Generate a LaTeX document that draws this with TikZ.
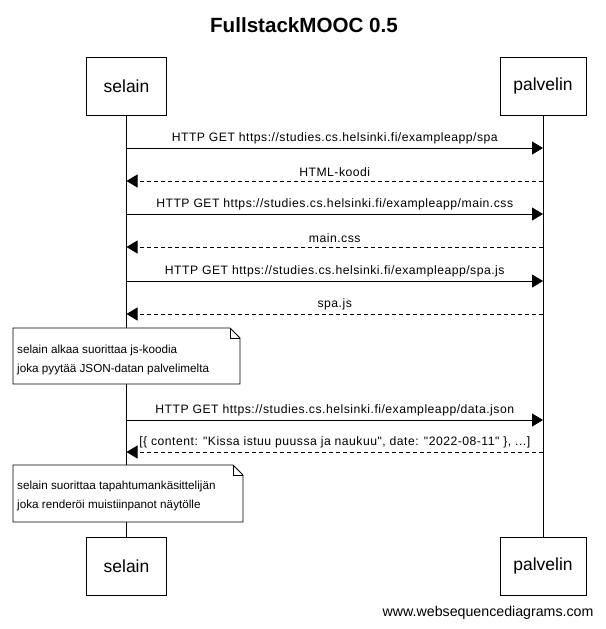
\documentclass[tikz,border=0pt]{standalone}
\usepackage{fontspec}
\setmainfont{Liberation Sans}
\newfontfamily\lblfont[LetterSpace=4]{Liberation Sans}
\usetikzlibrary{arrows.meta}
\begin{document}
\begin{tikzpicture}[x=1pt,y=-1pt,
  actor/.style={draw,line width=0.8pt,fill=white,minimum width=80pt,minimum height=58pt,inner sep=0pt,font=\fontsize{17.5}{20}\selectfont},
  msg/.style={line width=0.8pt,-{Triangle[length=11pt,width=13pt]}},
  reply/.style={msg,dash pattern=on 4pt off 3pt},
  lbl/.style={font=\lblfont\fontsize{12.2}{14}\selectfont,inner sep=1pt,anchor=base},
  notetext/.style={font=\fontsize{11.7}{19}\selectfont,align=left,anchor=north west,inner sep=0pt},
  notebox/.style={draw,line width=0.8pt,fill=white},
  life/.style={line width=0.8pt}]
\useasboundingbox (0,0) rectangle (605,629);
\node[font=\bfseries\fontsize{20.6}{24}\selectfont] (title) at (304,25) {FullstackMOOC 0.5};
\node[actor] (s1) at (126.5,86) {selain};
\node[actor,minimum width=86pt] (p1) at (543,86) {palvelin};
\node[actor] (s2) at (126.5,566) {selain};
\node[actor,minimum width=86pt] (p2) at (543,566) {palvelin};
\draw[life] (s1.south) -- (s2.north);
\draw[life] (p1.south) -- (p2.north);
% messages
\foreach \i/\y in {1/148,2/181,3/214,4/247,5/281,6/314,7/420,8/452}{
  \coordinate (sa\i) at (126.5,\y);
  \coordinate (pa\i) at (543,\y);
}
\draw[msg] (sa1) -- node[lbl,above=3pt] {HTTP GET https://studies.cs.helsinki.fi/exampleapp/spa} (pa1);
\draw[reply] (pa2) -- node[lbl,above=3pt] {HTML-koodi} (sa2);
\draw[msg] (sa3) -- node[lbl,above=3pt] {HTTP GET https://studies.cs.helsinki.fi/exampleapp/main.css} (pa3);
\draw[reply] (pa4) -- node[lbl,above=3pt] {main.css} (sa4);
\draw[msg] (sa5) -- node[lbl,above=3pt] {HTTP GET https://studies.cs.helsinki.fi/exampleapp/spa.js} (pa5);
\draw[reply] (pa6) -- node[lbl,above=3pt] {spa.js} (sa6);
\draw[msg] (sa7) -- node[lbl,above=3pt] {HTTP GET https://studies.cs.helsinki.fi/exampleapp/data.json} (pa7);
\draw[reply] (pa8) -- node[lbl,above=3pt] {[\{ content: {\char34}Kissa istuu puussa ja naukuu{\char34}, date: {\char34}2022-08-11{\char34} \}, ...]} (sa8);
% note 1
\draw[notebox] (13,328) -- (230,328) -- (240,338) -- (240,384) -- (13,384) -- cycle;
\draw[line width=0.8pt] (230,328) -- (230,338) -- (240,338);
\node[notetext] (n1) at (17,345) {selain alkaa suorittaa js-koodia\\joka pyytää JSON-datan palvelimelta};
% note 2
\draw[notebox] (13,465) -- (233,465) -- (243,475) -- (243,522) -- (13,522) -- cycle;
\draw[line width=0.8pt] (233,465) -- (233,475) -- (243,475);
\node[notetext] (n2) at (17,481) {selain suorittaa tapahtumankäsittelijän\\joka renderöi muistiinpanot näytölle};
\node[font=\fontsize{14.2}{16}\selectfont,anchor=east] (foot) at (597,613) {www.websequencediagrams.com};
\end{tikzpicture}
\end{document}
